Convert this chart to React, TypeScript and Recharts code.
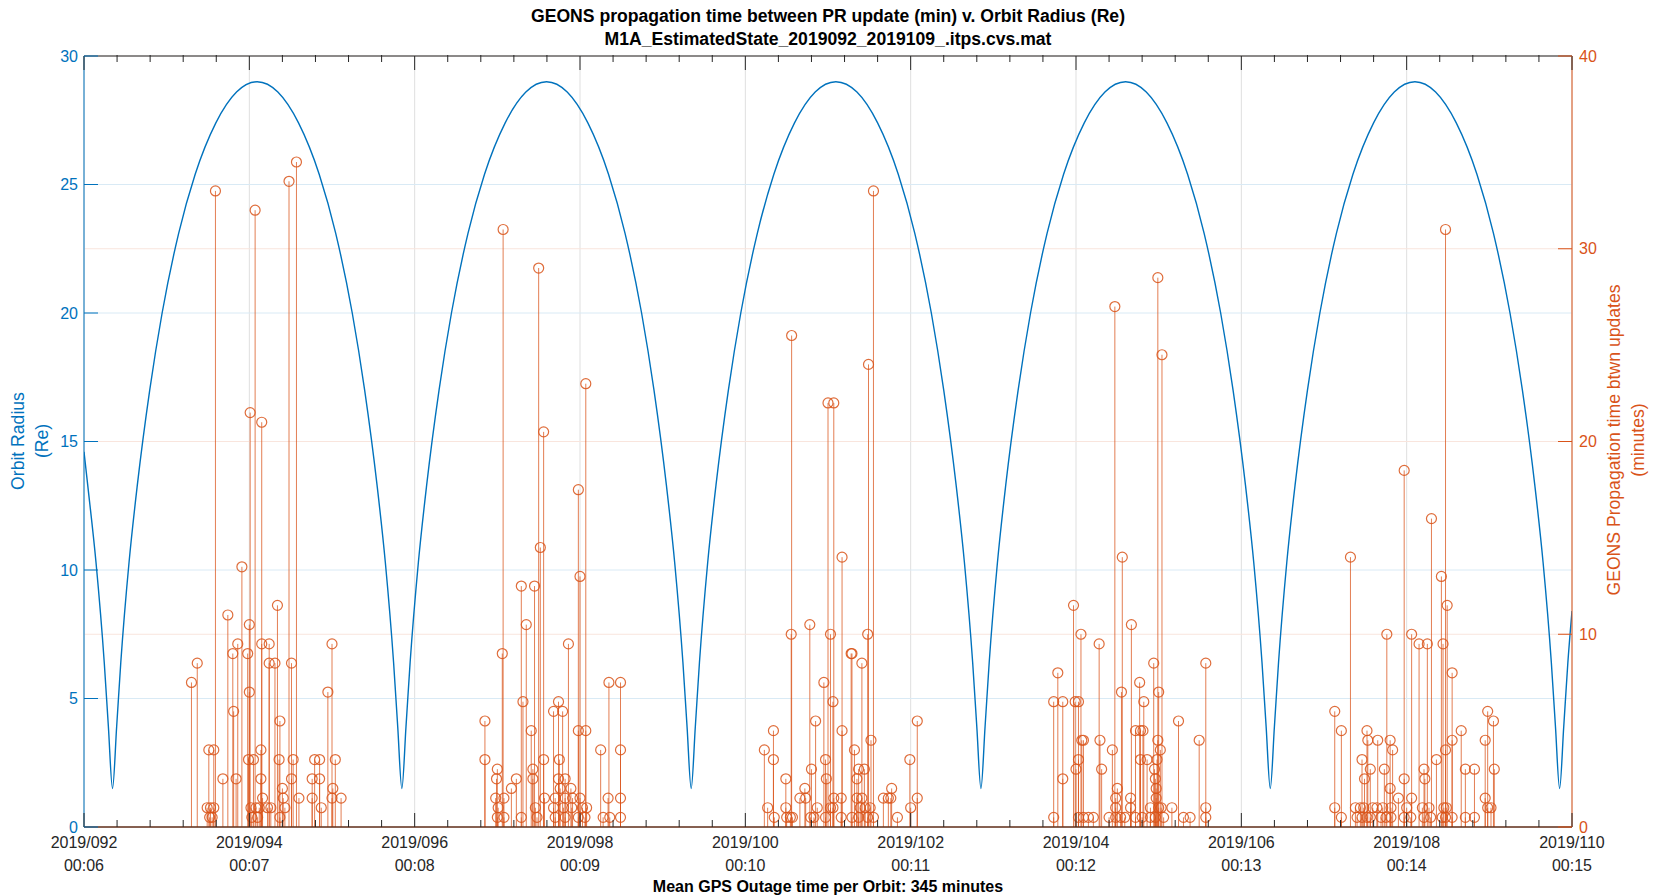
import React from "react";
import {
  ComposedChart,
  Line,
  Scatter,
  ErrorBar,
  XAxis,
  YAxis,
  CartesianGrid,
  ReferenceLine,
} from "recharts";

const BLUE = "#0072BD";
const ORANGE = "#D95319";
const AXIS = "#262626";
const FONT = "'Liberation Sans', Arial, Helvetica, sans-serif";

// x axis (day of year 2019)
const majorDays = [92, 94, 96, 98, 100, 102, 104, 106, 108, 110];
const dayLabels = ["2019/092", "2019/094", "2019/096", "2019/098", "2019/100", "2019/102", "2019/104", "2019/106", "2019/108", "2019/110"];
const timeLabels = ["00:06", "00:07", "00:08", "00:09", "00:10", "00:11", "00:12", "00:13", "00:14", "00:15"];
const minorDays = [
  92.4, 92.8, 93.2, 93.6, 94.4, 94.8, 95.2, 95.6, 96.4, 96.8, 97.2, 97.6,
  98.4, 98.8, 99.2, 99.6, 100.4, 100.8, 101.2, 101.6, 102.4, 102.8, 103.2, 103.6,
  104.4, 104.8, 105.2, 105.6, 106.4, 106.8, 107.2, 107.6, 108.4, 108.8, 109.2, 109.6,
];
const leftTicks = [0, 5, 10, 15, 20, 25, 30];
const rightTicks = [0, 10, 20, 30, 40];

// orbit radius (Re): [day, Re]
const orbit1: [number, number][] = [
  [92.0, 14.6], [92.045, 13.3], [92.145, 10.3], [92.245, 6.4], [92.295, 3.9], [92.345, 1.5],
  [92.395, 3.9], [92.445, 6.4], [92.545, 10.3], [92.645, 13.3], [92.795, 17.0], [92.945, 20.0],
  [93.145, 23.1], [93.345, 25.4], [93.595, 27.4], [93.845, 28.6], [94.095, 29.0],
];
const orbit2: [number, number][] = [
  [94.345, 28.6], [94.595, 27.4], [94.845, 25.4], [95.045, 23.1], [95.245, 20.0], [95.395, 17.0],
  [95.545, 13.3], [95.645, 10.3], [95.745, 6.4], [95.795, 3.9], [95.845, 1.5], [95.895, 3.9],
  [95.945, 6.4], [96.045, 10.3], [96.145, 13.3], [96.295, 17.0], [96.445, 20.0], [96.645, 23.1],
  [96.845, 25.4], [97.095, 27.4], [97.345, 28.6], [97.595, 29.0],
];
const orbit3: [number, number][] = [
  [97.845, 28.6], [98.095, 27.4], [98.345, 25.4], [98.545, 23.1], [98.745, 20.0], [98.895, 17.0],
  [99.045, 13.3], [99.145, 10.3], [99.245, 6.4], [99.295, 3.9], [99.345, 1.5], [99.395, 3.9],
  [99.445, 6.4], [99.545, 10.3], [99.645, 13.3], [99.795, 17.0], [99.945, 20.0], [100.145, 23.1],
  [100.345, 25.4], [100.595, 27.4], [100.845, 28.6], [101.095, 29.0],
];
const orbit4: [number, number][] = [
  [101.35, 28.6], [101.6, 27.4], [101.85, 25.4], [102.05, 23.1], [102.25, 20.0], [102.4, 17.0],
  [102.55, 13.3], [102.65, 10.3], [102.75, 6.4], [102.8, 3.9], [102.85, 1.5], [102.9, 3.9],
  [102.95, 6.4], [103.05, 10.3], [103.15, 13.3], [103.3, 17.0], [103.45, 20.0], [103.65, 23.1],
  [103.85, 25.4], [104.1, 27.4], [104.35, 28.6], [104.6, 29.0],
];
const orbit5: [number, number][] = [
  [104.85, 28.6], [105.1, 27.4], [105.35, 25.4], [105.55, 23.1], [105.75, 20.0], [105.9, 17.0],
  [106.05, 13.3], [106.15, 10.3], [106.25, 6.4], [106.3, 3.9], [106.35, 1.5], [106.4, 3.9],
  [106.45, 6.4], [106.55, 10.3], [106.65, 13.3], [106.8, 17.0], [106.95, 20.0], [107.15, 23.1],
  [107.35, 25.4], [107.6, 27.4], [107.85, 28.6], [108.1, 29.0],
];
const orbit6: [number, number][] = [
  [108.35, 28.6], [108.6, 27.4], [108.85, 25.4], [109.05, 23.1], [109.25, 20.0], [109.4, 17.0],
  [109.55, 13.3], [109.65, 10.3], [109.75, 6.4], [109.8, 3.9], [109.85, 1.5], [109.9, 3.9],
  [109.95, 6.4], [110.0, 8.4],
];

// propagation time between PR updates (minutes): [day, minutes]
const pass1: [number, number][] = [
  [93.3, 7.5], [93.37, 8.5], [93.49, 1.0], [93.51, 4.0], [93.52, 0.5], [93.53, 1.0], [93.55, 0.5],
  [93.57, 4.0], [93.57, 1.0], [93.59, 33.0], [93.68, 2.5], [93.74, 11.0], [93.8, 9.0], [93.81, 6.0],
  [93.84, 2.5], [93.86, 9.5], [93.91, 13.5], [93.98, 9.0], [93.99, 3.5], [94.0, 10.5], [94.0, 7.0],
  [94.01, 21.5], [94.02, 1.0], [94.03, 0.5], [94.05, 3.5], [94.07, 32.0], [94.08, 1.0], [94.1, 0.5],
  [94.12, 1.0], [94.14, 4.0], [94.14, 2.5], [94.15, 9.5], [94.15, 21.0], [94.16, 1.5], [94.22, 1.0],
  [94.24, 9.5], [94.24, 8.5], [94.26, 1.0], [94.31, 8.5], [94.34, 11.5], [94.36, 3.5], [94.37, 5.5],
  [94.37, 0.5], [94.4, 2.0], [94.41, 1.5], [94.43, 1.0], [94.48, 33.5], [94.51, 8.5], [94.51, 2.5],
  [94.53, 3.5], [94.57, 34.5], [94.6, 1.5], [94.76, 2.5], [94.76, 1.5], [94.79, 3.5], [94.85, 3.5],
  [94.85, 2.5], [94.87, 1.0], [94.95, 7.0], [95.0, 9.5], [95.01, 2.0], [95.0, 1.5], [95.04, 3.5],
  [95.11, 1.5],
];
const pass2: [number, number][] = [
  [96.85, 5.5], [96.85, 3.5], [97.0, 3.0], [96.99, 2.5], [96.98, 1.5], [97.08, 1.5], [97.01, 1.0],
  [97.0, 0.5], [97.08, 0.5], [97.06, 9.0], [97.07, 31.0], [97.17, 2.0], [97.23, 2.5], [97.29, 12.5],
  [97.29, 0.5], [97.31, 6.5], [97.35, 10.5], [97.41, 5.0], [97.43, 3.0], [97.43, 2.5], [97.45, 12.5],
  [97.46, 1.0], [97.48, 0.5], [97.5, 29.0], [97.52, 14.5], [97.56, 20.5], [97.56, 3.5], [97.57, 1.5],
  [97.68, 6.0], [97.74, 6.5], [97.79, 6.0], [97.75, 3.5], [97.74, 2.5], [97.82, 2.5], [97.76, 2.0],
  [97.89, 2.0], [97.7, 1.5], [97.82, 1.5], [97.91, 1.5], [97.68, 1.0], [97.8, 1.0], [97.9, 1.0],
  [97.7, 0.5], [97.82, 0.5], [97.86, 9.5], [97.98, 5.0], [97.98, 17.5], [98.0, 13.0], [98.07, 5.0],
  [98.07, 23.0], [98.0, 1.5], [98.08, 1.0], [97.98, 0.5], [98.06, 0.5], [98.03, 1.0], [98.25, 4.0],
  [98.35, 7.5], [98.34, 1.5], [98.28, 0.5], [98.36, 0.5], [98.49, 7.5], [98.49, 4.0], [98.49, 1.5],
  [98.49, 0.5],
];
const pass3: [number, number][] = [
  [100.23, 4.0], [100.27, 1.0], [100.34, 5.0], [100.34, 3.5], [100.35, 0.5], [100.49, 2.5],
  [100.49, 1.0], [100.5, 0.5], [100.555, 10.0], [100.56, 25.5], [100.545, 0.5], [100.57, 0.5],
  [100.66, 1.5], [100.72, 2.0], [100.73, 1.5], [100.78, 10.5], [100.8, 3.0], [100.79, 0.5],
  [100.83, 0.5], [100.85, 5.5], [100.87, 1.0], [100.95, 7.5], [100.97, 3.5], [100.98, 2.5],
  [100.97, 0.5], [101.0, 22.0], [101.03, 10.0], [101.06, 6.5], [101.03, 1.0], [101.07, 22.0],
  [101.07, 1.5], [101.06, 1.0], [101.16, 1.5], [101.17, 5.0], [101.17, 14.0], [101.16, 0.5],
  [101.28, 9.0], [101.29, 9.0], [101.32, 4.0], [101.29, 0.5], [101.35, 1.5], [101.37, 3.0],
  [101.35, 2.5], [101.41, 1.5], [101.39, 1.0], [101.37, 0.5], [101.41, 8.5], [101.44, 3.0],
  [101.48, 10.0], [101.49, 24.0], [101.55, 33.0], [101.52, 4.5], [101.45, 1.0], [101.51, 1.0],
  [101.48, 0.5], [101.55, 0.5], [101.67, 1.5], [101.73, 1.5], [101.77, 2.0], [101.76, 1.5],
  [101.84, 0.5], [101.99, 3.5], [102.0, 1.0], [102.08, 5.5], [102.08, 1.5],
];
const pass4: [number, number][] = [
  [103.73, 0.5], [103.73, 6.5], [103.78, 8.0], [103.84, 6.5], [103.84, 2.5], [103.97, 11.5],
  [103.99, 6.5], [104.03, 6.5], [104.0, 3.0], [104.03, 3.5], [104.07, 4.5], [104.09, 4.5],
  [104.06, 10.0], [104.03, 0.5], [104.09, 0.5], [104.15, 0.5], [104.21, 0.5], [104.28, 9.5],
  [104.29, 4.5], [104.31, 3.0], [104.4, 0.5], [104.44, 4.0], [104.47, 27.0], [104.48, 1.5],
  [104.5, 2.0], [104.48, 1.0], [104.48, 0.5], [104.54, 0.5], [104.55, 7.0], [104.56, 14.0],
  [104.59, 0.5], [104.66, 1.5], [104.66, 1.0], [104.67, 10.5], [104.72, 5.0], [104.77, 7.5],
  [104.78, 5.0], [104.78, 3.5], [104.81, 5.0], [104.82, 6.5], [104.72, 0.5], [104.8, 0.5],
  [104.86, 3.5], [104.9, 1.0], [104.9, 0.5], [104.94, 8.5], [104.99, 28.5], [105.04, 24.5],
  [105.0, 7.0], [104.99, 4.5], [105.02, 4.0], [104.98, 3.5], [104.95, 3.0], [104.96, 2.5],
  [104.97, 2.0], [104.97, 1.5], [105.0, 1.0], [104.96, 0.5], [105.03, 1.0], [105.06, 0.5],
  [105.16, 1.0], [105.24, 5.5], [105.3, 0.5], [105.38, 0.5], [105.49, 4.5], [105.57, 8.5],
  [105.57, 1.0], [105.57, 0.5],
];
const pass5: [number, number][] = [
  [107.13, 6.0], [107.13, 1.0], [107.21, 5.0], [107.21, 0.5], [107.32, 14.0], [107.38, 1.0],
  [107.4, 0.5], [107.44, 1.0], [107.46, 0.5], [107.48, 1.0], [107.52, 0.5], [107.56, 0.5],
  [107.59, 1.0], [107.52, 5.0], [107.53, 4.5], [107.46, 3.5], [107.49, 2.5], [107.56, 3.0],
  [107.65, 4.5], [107.64, 1.0], [107.71, 1.0], [107.69, 0.5], [107.73, 3.0], [107.76, 10.0],
  [107.8, 4.5], [107.83, 4.0], [107.8, 2.0], [107.81, 1.0], [107.81, 0.5], [107.75, 0.5],
  [107.9, 1.5], [107.97, 2.5], [107.97, 18.5], [108.0, 1.0], [107.97, 0.5], [108.05, 0.5],
  [108.06, 1.5], [108.06, 10.0], [108.15, 9.5], [108.21, 3.0], [108.22, 2.5], [108.19, 1.0],
  [108.21, 0.5], [108.3, 16.0], [108.25, 9.5], [108.27, 1.0], [108.29, 0.5], [108.36, 3.5],
  [108.42, 13.0], [108.44, 9.5], [108.49, 11.5], [108.47, 4.0], [108.45, 1.0], [108.43, 0.5],
  [108.48, 1.0], [108.47, 0.5], [108.47, 31.0], [108.55, 8.0], [108.55, 4.5], [108.55, 0.5],
  [108.66, 5.0], [108.71, 3.0], [108.71, 0.5], [108.82, 3.0], [108.82, 0.5], [108.95, 4.5],
  [108.95, 1.5], [108.98, 6.0], [108.98, 1.0], [109.02, 1.0], [109.05, 5.5], [109.06, 3.0],
];

const orbitData = [...orbit1, ...orbit2, ...orbit3, ...orbit4, ...orbit5, ...orbit6].map(
  ([day, re]) => ({ day, re })
);
const stemData = [...pass1, ...pass2, ...pass3, ...pass4, ...pass5].map(([day, min]) => ({
  day,
  min,
  err: [min, 0],
}));
const bottomTicks = [...majorDays, ...minorDays].sort((a, b) => a - b);

const BottomTick = (props: any) => {
  const { x, y, payload } = props;
  const i = majorDays.indexOf(payload.value);
  const major = i >= 0;
  return (
    <g>
      <line x1={x} y1={y} x2={x} y2={y - (major ? 14 : 7)} stroke={AXIS} strokeWidth={1} />
      {major && (
        <text textAnchor="middle" fill={AXIS} fontSize={16} fontFamily={FONT}>
          <tspan x={x} y={y + 21}>{dayLabels[i]}</tspan>
          <tspan x={x} y={y + 44}>{timeLabels[i]}</tspan>
        </text>
      )}
    </g>
  );
};

const TopTick = (props: any) => {
  const { x, y, payload } = props;
  const major = majorDays.indexOf(payload.value) >= 0;
  return <line x1={x} y1={y} x2={x} y2={y + (major ? 14 : 7)} stroke={AXIS} strokeWidth={1} />;
};

const LeftTick = (props: any) => {
  const { x, y, payload } = props;
  return (
    <g>
      <line x1={x} y1={y} x2={x + 14} y2={y} stroke={BLUE} strokeWidth={1} />
      <text x={x - 6} y={y} dy="0.35em" textAnchor="end" fill={BLUE} fontSize={16} fontFamily={FONT}>
        {payload.value}
      </text>
    </g>
  );
};

const RightTick = (props: any) => {
  const { x, y, payload } = props;
  return (
    <g>
      <line x1={x} y1={y} x2={x - 14} y2={y} stroke={ORANGE} strokeWidth={1} />
      <text x={x + 7} y={y} dy="0.35em" textAnchor="start" fill={ORANGE} fontSize={16} fontFamily={FONT}>
        {payload.value}
      </text>
    </g>
  );
};

const StemHead = (props: any) => (
  <circle cx={props.cx} cy={props.cy} r={5} fill="none" stroke={ORANGE} strokeWidth={1.2} strokeOpacity={0.85} />
);

export default function App() {
  return (
    <div
      style={{
        position: "absolute",
        left: 0,
        top: 0,
        width: 1654,
        height: 896,
        background: "#fff",
        fontFamily: FONT,
      }}
    >
      <div style={{ position: "absolute", left: 0, top: 6, width: 1656, textAlign: "center", fontSize: 17.6, fontWeight: "bold", lineHeight: "20px", color: "#000" }}>
        GEONS propagation time between PR update (min) v. Orbit Radius (Re)
      </div>
      <div style={{ position: "absolute", left: 0, top: 29, width: 1656, textAlign: "center", fontSize: 17.6, fontWeight: "bold", lineHeight: "20px", color: "#000" }}>
        M1A_EstimatedState_2019092_2019109_.itps.cvs.mat
      </div>
      <ComposedChart
        width={1654}
        height={896}
        margin={{ top: 54, right: 0, bottom: 68, left: 0 }}
        style={{ position: "absolute", left: 0, top: 0 }}
      >
        <CartesianGrid xAxisId="grid" yAxisId="left" horizontal={false} stroke="#DFDFDF" strokeWidth={1} />
        <CartesianGrid xAxisId="grid" yAxisId="left" vertical={false} stroke="rgb(217,234,245)" strokeWidth={1} />
        <CartesianGrid xAxisId="grid" yAxisId="right" vertical={false} stroke="rgb(249,229,221)" strokeWidth={1} />
        <XAxis
          xAxisId="grid"
          orientation="top"
          type="number"
          dataKey="day"
          domain={[92, 110]}
          ticks={majorDays}
          interval={0}
          height={1}
          tickSize={0}
          tickMargin={0}
          tick={TopTick}
          axisLine={{ stroke: AXIS }}
          allowDataOverflow
        />
        <XAxis
          xAxisId="topMinor"
          orientation="top"
          type="number"
          dataKey="day"
          domain={[92, 110]}
          ticks={minorDays}
          interval={0}
          height={1}
          tickSize={0}
          tickMargin={0}
          tick={TopTick}
          axisLine={false}
          allowDataOverflow
        />
        <XAxis
          xAxisId="bottom"
          orientation="bottom"
          type="number"
          dataKey="day"
          domain={[92, 110]}
          ticks={bottomTicks}
          interval={0}
          height={1}
          tickSize={0}
          tickMargin={0}
          tick={BottomTick}
          axisLine={{ stroke: AXIS }}
          allowDataOverflow
        />
        <YAxis
          yAxisId="left"
          orientation="left"
          type="number"
          dataKey="re"
          domain={[0, 30]}
          ticks={leftTicks}
          interval={0}
          width={84}
          tickSize={0}
          tickMargin={0}
          tick={LeftTick}
          axisLine={{ stroke: BLUE }}
          allowDataOverflow
        />
        <YAxis
          yAxisId="right"
          orientation="right"
          type="number"
          dataKey="min"
          domain={[0, 40]}
          ticks={rightTicks}
          interval={0}
          width={82}
          tickSize={0}
          tickMargin={0}
          tick={RightTick}
          axisLine={{ stroke: ORANGE }}
          allowDataOverflow
        />
        <Line
          data={orbitData}
          xAxisId="bottom"
          yAxisId="left"
          dataKey="re"
          type="monotone"
          stroke={BLUE}
          strokeWidth={1.4}
          dot={false}
          isAnimationActive={false}
        />
        <Scatter
          data={stemData}
          xAxisId="bottom"
          yAxisId="right"
          dataKey="min"
          shape={StemHead}
          isAnimationActive={false}
        >
          <ErrorBar
            dataKey="err"
            direction="y"
            width={0}
            stroke={ORANGE}
            strokeWidth={1}
            strokeOpacity={0.75}
            isAnimationActive={false}
          />
        </Scatter>
        <ReferenceLine xAxisId="bottom" yAxisId="right" y={0} stroke={ORANGE} strokeWidth={1.6} strokeOpacity={0.7} />
      </ComposedChart>
      <div
        style={{
          position: "absolute",
          left: 30,
          top: 441,
          transform: "translate(-50%, -50%) rotate(-90deg)",
          color: BLUE,
          fontSize: 17.6,
          lineHeight: "24px",
          textAlign: "center",
          whiteSpace: "nowrap",
        }}
      >
        Orbit Radius
        <br />
        (Re)
      </div>
      <div
        style={{
          position: "absolute",
          left: 1626,
          top: 440,
          transform: "translate(-50%, -50%) rotate(-90deg)",
          color: ORANGE,
          fontSize: 17.6,
          lineHeight: "24px",
          textAlign: "center",
          whiteSpace: "nowrap",
        }}
      >
        GEONS Propagation time btwn updates
        <br />
        (minutes)
      </div>
      <div style={{ position: "absolute", left: 0, top: 877, width: 1656, textAlign: "center", fontSize: 16, fontWeight: "bold", lineHeight: "20px", color: "#000" }}>
        Mean GPS Outage time per Orbit: 345 minutes
      </div>
    </div>
  );
}
